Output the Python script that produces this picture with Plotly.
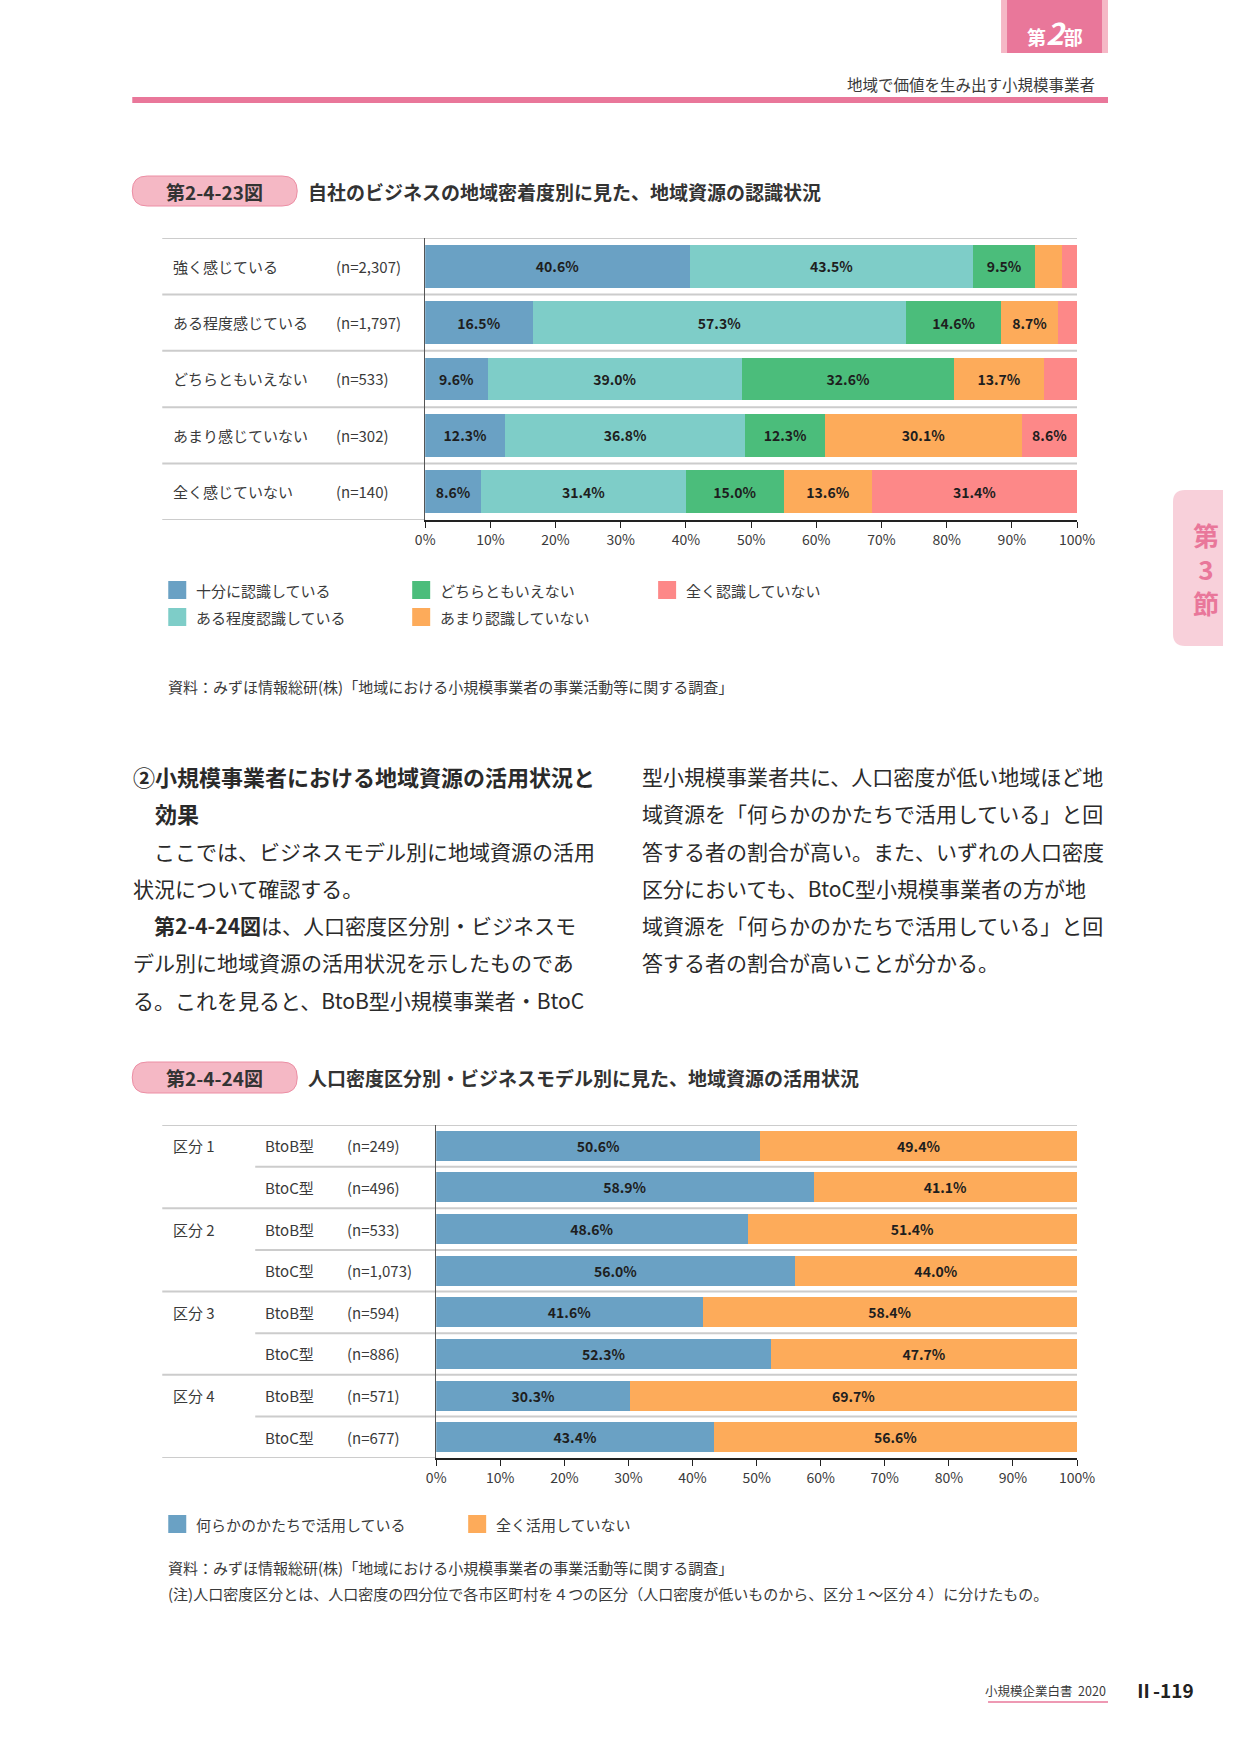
import plotly.graph_objects as go

W, H = 1241, 1754
# the capture maps page x to picture x as 0.9777*x + 9.7; positions below are picture pixels
SX, OX = 0.9777, 9.7
FONT = "Noto Sans CJK JP"
TXT = "#3a3a3a"
PINK = "#e9779a"

# 第2-4-23図 data
c1_rows = ["強く感じている", "ある程度感じている", "どちらともいえない", "あまり感じていない", "全く感じていない"]
c1_n = ["(n=2,307)", "(n=1,797)", "(n=533)", "(n=302)", "(n=140)"]
c1_series = ["十分に認識している", "ある程度認識している", "どちらともいえない", "あまり認識していない", "全く認識していない"]
c1_full = [40.6, 16.5, 9.6, 12.3, 8.6]
c1_some = [43.5, 57.3, 39.0, 36.8, 31.4]
c1_neutral = [9.5, 14.6, 32.6, 12.3, 15.0]
c1_little = [4.1, 8.7, 13.7, 30.1, 13.6]
c1_none = [2.3, 2.9, 5.1, 8.6, 31.4]
c1_colors = ["#6aa1c4", "#7ecdc8", "#4bbd7b", "#fdab5a", "#fd8888"]

# 第2-4-24図 data
c2_groups = ["区分 1", "区分 1", "区分 2", "区分 2", "区分 3", "区分 3", "区分 4", "区分 4"]
c2_models = ["BtoB型", "BtoC型", "BtoB型", "BtoC型", "BtoB型", "BtoC型", "BtoB型", "BtoC型"]
c2_n = ["(n=249)", "(n=496)", "(n=533)", "(n=1,073)", "(n=594)", "(n=886)", "(n=571)", "(n=677)"]
c2_series = ["何らかのかたちで活用している", "全く活用していない"]
c2_use = [50.6, 58.9, 48.6, 56.0, 41.6, 52.3, 30.3, 43.4]
c2_nouse = [49.4, 41.1, 51.4, 44.0, 58.4, 47.7, 69.7, 56.6]
c2_colors = ["#6aa1c4", "#fdab5a"]

ticks = list(range(0, 101, 10))
tick_text = [f"{t}%" for t in ticks]


def fx(x):
    return min(1.0, max(0.0, (x - OX) / SX / W))


def fy(y):
    return 1 - y / H


def rrect(x0, y0, x1, y1, r, right_round=True):
    # rounded rectangle path in paper coords (pixel input)
    rr = r if right_round else 0
    return (f"M {fx(x0+r)},{fy(y0)} L {fx(x1-rr)},{fy(y0)} Q {fx(x1)},{fy(y0)} {fx(x1)},{fy(y0+rr)} "
            f"L {fx(x1)},{fy(y1-rr)} Q {fx(x1)},{fy(y1)} {fx(x1-rr)},{fy(y1)} "
            f"L {fx(x0+r)},{fy(y1)} Q {fx(x0)},{fy(y1)} {fx(x0)},{fy(y1-r)} "
            f"L {fx(x0)},{fy(y0+r)} Q {fx(x0)},{fy(y0)} {fx(x0+r)},{fy(y0)} Z")


def lbl(v):
    return f"<b>{v:.1f}%</b>" if v >= 8 else ""


fig = go.Figure()

# chart 1 bars
for name, vals, col in zip(c1_series, [c1_full, c1_some, c1_neutral, c1_little, c1_none], c1_colors):
    fig.add_trace(go.Bar(
        x=vals, y=c1_rows, orientation="h", name=name,
        marker=dict(color=col, line=dict(width=0)),
        width=0.76,
        text=[lbl(v) for v in vals], textposition="inside", insidetextanchor="middle",
        textangle=0, textfont=dict(family=FONT, size=14, color="#1e1e1e"),
        hoverinfo="skip", showlegend=False, xaxis="x", yaxis="y",
    ))

# chart 2 bars
c2_ids = [f"{g} {m} {n}" for g, m, n in zip(c2_groups, c2_models, c2_n)]
for name, vals, col in zip(c2_series, [c2_use, c2_nouse], c2_colors):
    fig.add_trace(go.Bar(
        x=vals, y=c2_ids, orientation="h", name=name,
        marker=dict(color=col, line=dict(width=0)),
        width=0.72,
        text=[lbl(v) for v in vals], textposition="inside", insidetextanchor="middle",
        textangle=0, textfont=dict(family=FONT, size=14, color="#1e1e1e"),
        hoverinfo="skip", showlegend=False, xaxis="x2", yaxis="y2",
    ))

axis_x = dict(range=[0, 100], tickvals=ticks, ticktext=tick_text, ticks="outside", ticklen=6,
              tickcolor="#222", showline=True, linecolor="#222", linewidth=1.5, showgrid=False,
              zeroline=False, fixedrange=True, tickfont=dict(family=FONT, size=14, color=TXT))
axis_y = dict(type="category", showticklabels=False, showline=True, linecolor="#555", linewidth=1.2,
              showgrid=False, zeroline=False, ticks="", fixedrange=True)

shapes = []
annotations = []


def text(x, y, s, size=14, color=TXT, anchor="left", **kw):
    annotations.append(dict(x=fx(x), y=fy(y), xref="paper", yref="paper", text=s, showarrow=False,
                            xanchor=anchor, yanchor="middle",
                            font=dict(family=FONT, size=size, color=color), **kw))


def hline(x0, x1, y, color="#cccccc", width=2, yref="paper"):
    yy = fy(y) if yref == "paper" else y
    shapes.append(dict(type="line", xref="paper", yref=yref, x0=fx(x0), x1=fx(x1), y0=yy, y1=yy,
                       line=dict(color=color, width=width), layer="below"))


# page header
shapes.append(dict(type="rect", xref="paper", yref="paper", x0=fx(1001), x1=fx(1108), y0=fy(53), y1=1,
                   fillcolor="#f5b8c6", line=dict(width=0)))
shapes.append(dict(type="rect", xref="paper", yref="paper", x0=fx(1007), x1=fx(1102), y0=fy(53), y1=1,
                   fillcolor=PINK, line=dict(width=0)))
text(1055, 32, "<b>第<span style='font-size:30px'><i>2</i></span>部</b>", size=19, color="white", anchor="center")
text(1097, 84, "地域で価値を生み出す小規模事業者", size=15.5, anchor="right")
shapes.append(dict(type="rect", xref="paper", yref="paper", x0=fx(132), x1=fx(1108), y0=fy(103), y1=fy(97),
                   fillcolor=PINK, line=dict(width=0)))

# side tab
shapes.append(dict(type="path", xref="paper", yref="paper", path=rrect(1173, 490, 1260, 646, 12, right_round=False),
                   fillcolor="#f8d0da", line=dict(width=0)))
text(1206, 568, "<b>第<br>3<br>節</b>", size=26, color=PINK, anchor="center")

# chart titles
for (y0, y1), fig_no, title in [((176, 206), "第2-4-23図", "自社のビジネスの地域密着度別に見た、地域資源の認識状況"),
                                ((1062, 1093), "第2-4-24図", "人口密度区分別・ビジネスモデル別に見た、地域資源の活用状況")]:
    shapes.append(dict(type="path", xref="paper", yref="paper", path=rrect(132, y0, 297, y1, 15),
                       fillcolor="#f5b8c5", line=dict(color="#ec8ea4", width=1)))
    text(214, (y0 + y1) / 2, f"<b>{fig_no}</b>", size=19, color="#333", anchor="center")
    text(306, (y0 + y1) / 2, f"<b>{title}</b>", size=19, color="#333")

# chart 1 row labels and separators
for r, n in zip(c1_rows, c1_n):
    annotations.append(dict(x=fx(171), y=r, xref="paper", yref="y", text=r, showarrow=False, xanchor="left",
                            font=dict(family=FONT, size=15, color=TXT)))
    annotations.append(dict(x=fx(334), y=r, xref="paper", yref="y", text=n, showarrow=False, xanchor="left",
                            font=dict(family=FONT, size=15, color=TXT)))
for b in [i - 0.5 for i in range(len(c1_rows))]:
    hline(162, 1077, b, yref="y")
hline(162, 425, len(c1_rows) - 0.5, yref="y")

# chart 1 legend
leg1_pos = [(168, 590), (168, 617), (412, 590), (412, 617), (658, 590)]
for (lx, ly), name, col in zip(leg1_pos, c1_series, c1_colors):
    shapes.append(dict(type="rect", xref="paper", yref="paper", x0=fx(lx), x1=fx(lx + 18), y0=fy(ly + 9),
                       y1=fy(ly - 9), fillcolor=col, line=dict(width=0)))
    text(lx + 26, ly, name, size=15)

src = "資料：みずほ情報総研(株)「地域における小規模事業者の事業活動等に関する調査」"
text(166, 686, src, size=15)

# body text
left_lines = [
    "<b>②小規模事業者における地域資源の活用状況と</b>",
    "<b>　効果</b>",
    "　ここでは、ビジネスモデル別に地域資源の活用",
    "状況について確認する。",
    "　<b>第2-4-24図</b>は、人口密度区分別・ビジネスモ",
    "デル別に地域資源の活用状況を示したものであ",
    "る。これを見ると、BtoB型小規模事業者・BtoC",
]
left_sizes = [22, 22, 21, 21, 21, 21, 21]
right_lines = [
    "型小規模事業者共に、人口密度が低い地域ほど地",
    "域資源を「何らかのかたちで活用している」と回",
    "答する者の割合が高い。また、いずれの人口密度",
    "区分においても、BtoC型小規模事業者の方が地",
    "域資源を「何らかのかたちで活用している」と回",
    "答する者の割合が高いことが分かる。",
]
for i, (s, sz) in enumerate(zip(left_lines, left_sizes)):
    text(131, 776 + i * 37.3, s, size=sz, color="#2a2a2a")
for i, s in enumerate(right_lines):
    text(640, 776 + i * 37.3, s, size=21, color="#2a2a2a")

# chart 2 row labels and separators
prev = None
for rid, g, m, n in zip(c2_ids, c2_groups, c2_models, c2_n):
    if g != prev:
        annotations.append(dict(x=fx(171), y=rid, xref="paper", yref="y2", text=g, showarrow=False,
                                xanchor="left", font=dict(family=FONT, size=15, color=TXT)))
    prev = g
    annotations.append(dict(x=fx(263), y=rid, xref="paper", yref="y2", text=m, showarrow=False,
                            xanchor="left", font=dict(family=FONT, size=15, color=TXT)))
    annotations.append(dict(x=fx(345), y=rid, xref="paper", yref="y2", text=n, showarrow=False,
                            xanchor="left", font=dict(family=FONT, size=15, color=TXT)))
for i in range(len(c2_ids)):
    b = i - 0.5
    start = 162 if i == 0 or c2_groups[i] != c2_groups[i - 1] else 255
    hline(start, 1077, b, yref="y2")
hline(162, 436, len(c2_ids) - 0.5, yref="y2")

# chart 2 legend
for lx, name, col in zip([168, 468], c2_series, c2_colors):
    shapes.append(dict(type="rect", xref="paper", yref="paper", x0=fx(lx), x1=fx(lx + 18), y0=fy(1533),
                       y1=fy(1515), fillcolor=col, line=dict(width=0)))
    text(lx + 26, 1524, name, size=15)

text(166, 1567, src, size=15)
text(166, 1593, "(注)人口密度区分とは、人口密度の四分位で各市区町村を４つの区分（人口密度が低いものから、区分１～区分４）に分けたもの。",
     size=15)

# footer
text(1108, 1690, "小規模企業白書  2020", size=12.5, anchor="right")
hline(988, 1108, 1702, color=PINK, width=1.5)
text(1132, 1689, "<b>Ⅱ-119</b>", size=19, color="#222")

fig.update_layout(
    width=W, height=H, autosize=False,
    margin=dict(l=0, r=0, t=0, b=0),
    paper_bgcolor="white", plot_bgcolor="white",
    barmode="stack",
    font=dict(family=FONT, color=TXT),
    xaxis=dict(axis_x, domain=[fx(425), fx(1077)], anchor="y"),
    yaxis=dict(axis_y, domain=[fy(520), fy(238)], range=[len(c1_rows) - 0.5, -0.5], anchor="x"),
    xaxis2=dict(axis_x, domain=[fx(436), fx(1077)], anchor="y2"),
    yaxis2=dict(axis_y, domain=[fy(1458), fy(1125)], range=[len(c2_ids) - 0.5, -0.5], anchor="x2"),
    shapes=shapes,
    annotations=annotations,
    showlegend=False,
)

fig.write_html("out.html", config={"responsive": False, "displayModeBar": False},
               post_script="document.body.style.margin='0';document.body.style.overflow='hidden';")
